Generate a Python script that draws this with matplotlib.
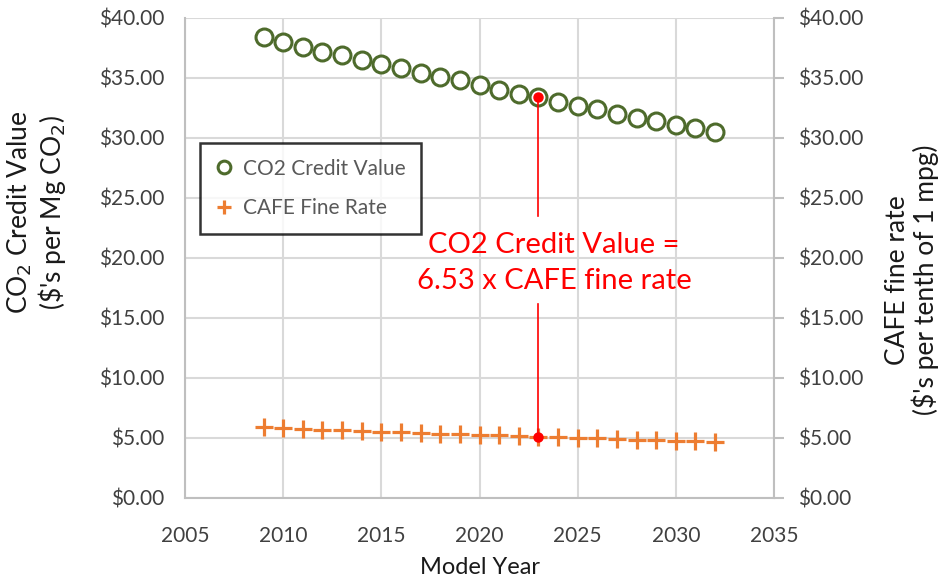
import matplotlib
matplotlib.use("Agg")
import matplotlib.pyplot as plt
from matplotlib.ticker import FuncFormatter, MultipleLocator

plt.rcParams['font.family'] = ['Lato', 'DejaVu Sans']

years = [2009, 2010, 2011, 2012, 2013, 2014, 2015, 2016, 2017, 2018, 2019, 2020,
         2021, 2022, 2023, 2024, 2025, 2026, 2027, 2028, 2029, 2030, 2031, 2032]
co2_value = [38.4, 38.0, 37.6, 37.2, 36.9, 36.5, 36.2, 35.8, 35.4, 35.1, 34.8, 34.4,
             34.0, 33.7, 33.4, 33.0, 32.7, 32.4, 32.0, 31.7, 31.4, 31.1, 30.8, 30.5]
cafe_rate = [5.88, 5.82, 5.76, 5.70, 5.65, 5.59, 5.54, 5.48, 5.42, 5.37, 5.33, 5.27,
             5.21, 5.16, 5.11, 5.05, 5.01, 4.96, 4.90, 4.85, 4.81, 4.76, 4.72, 4.67]
annot_year = 2023
annot_co2 = 33.4
annot_cafe = 5.11
annot_text = "CO2 Credit Value =\n6.53 x CAFE fine rate"

GREEN = '#4E6B2C'
ORANGE = '#ED7D31'
RED = '#FF0000'
GRID = '#D9D9D9'
SPINE = '#BFBFBF'
TXT = '#404040'
LBL = '#1A1A1A'

fig = plt.figure(figsize=(9.43, 5.82), dpi=100)
ax = fig.add_axes([185/943, 1-498/582, (774-185)/943, (498-18)/582])
ax2 = ax.twinx()

for a in (ax, ax2):
    a.set_xlim(2005, 2035)
    a.set_ylim(0, 40)
    a.yaxis.set_major_locator(MultipleLocator(5))
    a.yaxis.set_major_formatter(FuncFormatter(lambda v, p: f"${v:.2f}"))
    for s in a.spines.values():
        s.set_visible(False)

ax.xaxis.set_major_locator(MultipleLocator(5))
ax.grid(True, color=GRID, lw=1.5)
ax.set_axisbelow(True)
for name in ('bottom', 'left'):
    ax.spines[name].set_visible(True)
    ax.spines[name].set_color(SPINE)
    ax.spines[name].set_linewidth(1.5)
ax2.spines['right'].set_visible(True)
ax2.spines['right'].set_color(SPINE)
ax2.spines['right'].set_linewidth(1.5)

ax.tick_params(axis='y', length=0, pad=15, labelsize=15, labelcolor=TXT)
ax.tick_params(axis='x', length=0, pad=20, labelsize=15, labelcolor=TXT)
ax2.tick_params(axis='y', length=7, width=1.5, color=SPINE, direction='out',
                pad=10, labelsize=15, labelcolor=TXT)

l1, = ax.plot(years, co2_value, ls='none', marker='o', ms=12.2, mew=2.2,
              mfc='white', mec=GREEN, label='CO2 Credit Value', zorder=3)
l2, = ax2.plot(years, cafe_rate, ls='none', marker='+', ms=13.5, mew=2.3,
               color=ORANGE, label='CAFE Fine Rate', zorder=3)

# annotation line with gap for text
ax2.plot([annot_year, annot_year], [annot_co2, 23.5], color=RED, lw=1.2, zorder=4)
ax2.plot([annot_year, annot_year], [16.2, annot_cafe], color=RED, lw=1.2, zorder=4)
ax2.plot([annot_year, annot_year], [annot_co2, annot_cafe], ls='none', marker='o',
         ms=6.5, color=RED, zorder=5)
ax2.text(2023.8, 19.6, annot_text, color=RED, fontsize=21, ha='center',
         va='center', linespacing=1.45, zorder=6)

ax.set_xlabel('Model Year', fontsize=17, color=LBL, labelpad=8)
fig.text(37/943, 1-212/582, "CO$_2$ Credit Value\n(\\$'s per Mg CO$_2$)", fontsize=19,
         color=LBL, rotation=90, ha='center', va='center', linespacing=1.1)
fig.text(912/943, 1-280/582, "CAFE fine rate\n(\\$'s per tenth of 1 mpg)", fontsize=19,
         color=LBL, rotation=90, ha='center', va='center', linespacing=1.1)

leg = ax2.legend(handles=[l1, l2], loc='upper left',
                 bbox_to_anchor=(200/943, 1-143/582), bbox_transform=fig.transFigure,
                 fontsize=15, frameon=True, fancybox=False, markerscale=0.75,
                 handlelength=0.8, handletextpad=0.5, labelspacing=0.95,
                 borderpad=0.75, borderaxespad=0)
leg.get_frame().set_edgecolor('black')
leg.get_frame().set_linewidth(1.8)
for t in leg.get_texts():
    t.set_color('#595959')

fig.savefig('out.png', dpi=100)
